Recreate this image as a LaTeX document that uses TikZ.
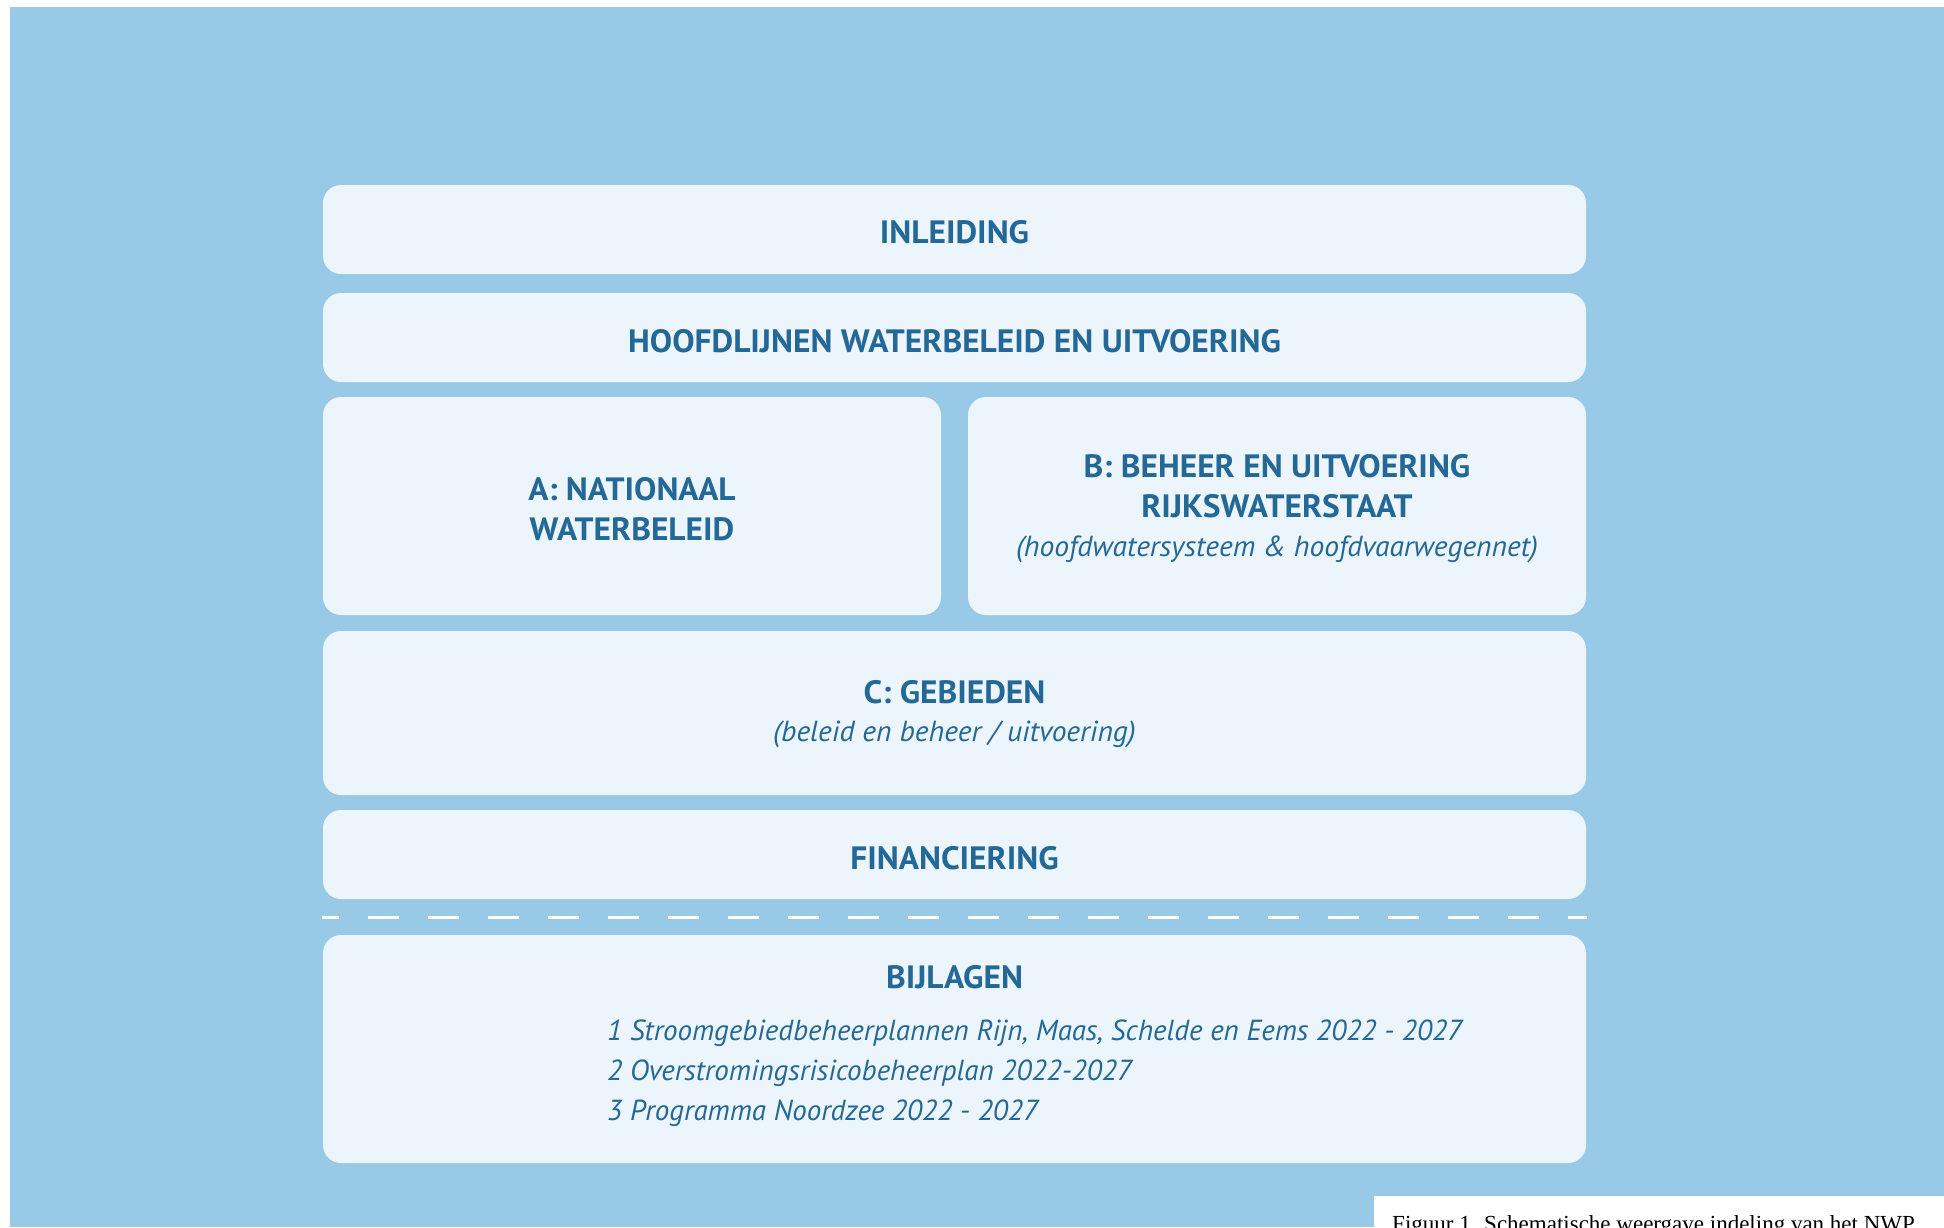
\documentclass[tikz,border=0pt]{standalone}
\usepackage{fontspec}
\setmainfont{PT Sans}
\newfontfamily\ttlfont[FakeStretch=1.035]{PT Sans}
\newfontfamily\subfont[FakeStretch=1.02]{PT Sans}
\newfontfamily\capfont{Liberation Serif}
\definecolor{bgblue}{RGB}{152,201,230}
\definecolor{boxfill}{RGB}{236,245,251}
\definecolor{txtblue}{RGB}{35,104,150}
\tikzset{
  panel/.style={fill=boxfill, draw=none, rounded corners=18pt, inner sep=0pt, minimum height=#1},
  ttl/.style={anchor=base, text=txtblue, font=\ttlfont\fontsize{32.3}{38}\selectfont\bfseries, inner sep=0pt},
  sub/.style={anchor=base, text=txtblue, font=\subfont\fontsize{29}{36}\selectfont\itshape, inner sep=0pt},
  lst/.style={anchor=base west, text=txtblue, font=\fontsize{29}{36}\selectfont\itshape, inner sep=0pt},
}
\begin{document}
\begin{tikzpicture}[x=1pt,y=-1pt]
\useasboundingbox (0,0) rectangle (1944,1227);
\clip (0,0) rectangle (1944,1227);
\fill[bgblue] (10,7) rectangle (1944,1227);

% panels
\node[panel=89pt, minimum width=1263pt] (inl) at (954.5,229.5) {};
\node[panel=89pt, minimum width=1263pt] (hfd) at (954.5,337.5) {};
\node[panel=218pt, minimum width=618pt] (pa) at (632,506) {};
\node[panel=218pt, minimum width=618pt] (pb) at (1277,506) {};
\node[panel=164pt, minimum width=1263pt] (pc) at (954.5,713) {};
\node[panel=89pt, minimum width=1263pt] (fin) at (954.5,854.5) {};
\node[panel=228pt, minimum width=1263pt] (bij) at (954.5,1049) {};

% dashed separator
\coordinate (dl) at (322,917);
\coordinate (dr) at (1587,917);
\draw[white, line width=3pt, dash pattern=on 31pt off 29pt, dash phase=14pt] (dl) -- (dr);

% texts
\node[ttl] (tinl) at (954.5,243) {INLEIDING};
\node[ttl] (thfd) at (954.5,352) {HOOFDLIJNEN WATERBELEID EN UITVOERING};
\node[ttl] (ta1) at (632,500) {A: NATIONAAL};
\node[ttl] (ta2) at (632,540) {WATERBELEID};
\node[ttl] (tb1) at (1277,477) {B: BEHEER EN UITVOERING};
\node[ttl] (tb2) at (1277,517) {RIJKSWATERSTAAT};
\node[sub] (tb3) at (1277,556) {(hoofdwatersysteem \& hoofdvaarwegennet)};
\node[ttl] (tc1) at (954.5,703) {C: GEBIEDEN};
\node[sub] (tc2) at (954.5,741) {(beleid en beheer / uitvoering)};
\node[ttl] (tfin) at (954.5,869) {FINANCIERING};
\node[ttl] (tbij) at (954.5,988) {BIJLAGEN};
\node[lst] (l1) at (607,1040) {1 Stroomgebiedbeheerplannen Rijn, Maas, Schelde en Eems 2022 - 2027};
\node[lst] (l2) at (607,1080) {2 Overstromingsrisicobeheerplan 2022-2027};
\node[lst] (l3) at (607,1120) {3 Programma Noordzee 2022 - 2027};

% caption box
\fill[white] (1374,1196) rectangle (1944,1227);
\node[anchor=base west, inner sep=0pt, font=\capfont\fontsize{23}{27}\selectfont] (cap) at (1392,1231) {Figuur 1. Schematische weergave indeling van het NWP};
\end{tikzpicture}
\end{document}
